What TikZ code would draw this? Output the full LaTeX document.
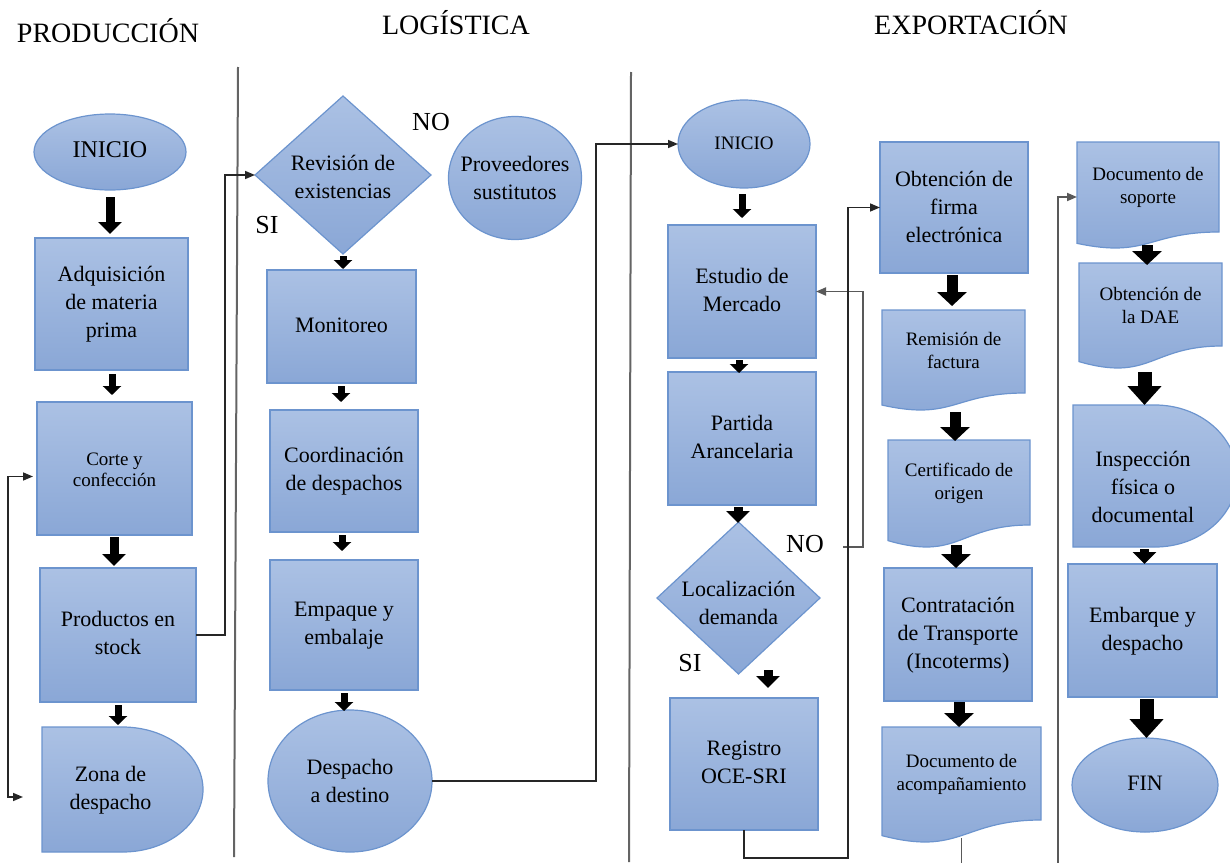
\documentclass[tikz,border=0pt]{standalone}
\usepackage{fontspec}
\setmainfont{Liberation Serif}
\newfontfamily\tnr{Liberation Serif}
\usetikzlibrary{shapes.geometric,arrows.meta,calc}

\definecolor{topc}{RGB}{171,193,228}
\definecolor{botc}{RGB}{138,167,214}
\definecolor{bordc}{RGB}{108,148,206}
\definecolor{divc}{RGB}{100,100,100}

\newcommand{\fsL}{\tnr\fontsize{22}{28}\selectfont}
\newcommand{\fsS}{\tnr\fontsize{19}{23}\selectfont}
\newcommand{\fsC}{\tnr\fontsize{19}{21}\selectfont}
\newcommand{\fsT}{\tnr\fontsize{28}{32}\selectfont}
\newcommand{\fsN}{\tnr\fontsize{26}{30}\selectfont}

% centred multi-line text that does not enlarge its shape (optional vertical shift)
\newcommand{\ztxt}[2][0pt]{\smash{\makebox[0pt]{\raisebox{\dimexpr-0.25em+#1\relax}{\begin{tabular}{@{}c@{}}#2\end{tabular}}}}}

% document symbol: x1, top, x2, right bottom, wave depth
\newcommand{\docsym}[5]{%
  \path[sfill] (#1,#2) -- (#3,#2) -- (#3,#4)
    .. controls ({(#1+#3)/2},#4) and ({(#1+#3)/2},{#4+1.65*#5}) .. (#1,{#4+0.71*#5}) -- cycle;}

% delay symbol: x1, top, bottom, x radius, y radius
\newcommand{\delaysym}[5]{%
  \path[sfill] (#1,#2) -- ({#1+#4},#2)
    arc[start angle=90,end angle=-90,x radius=#4pt,y radius=#5pt] -- (#1,#3) -- cycle;}

% block arrow from one node to the next: style, from, to, dx, gap at start, gap at end
\newcommand{\farrow}[6]{%
  \draw[#1] ($(#2.south)+(#4,#5)$) -- ($(#2.south |- #3.north)+(#4,-#6)$);}

\begin{document}
\begin{tikzpicture}[x=1pt,y=-1pt,
  sz/.style 2 args={minimum width=#1pt,minimum height=#2pt},
  sfill/.style={draw=bordc,line width=1.2pt,top color=topc,bottom color=botc},
  base/.style={inner sep=0pt,outer sep=0pt,font=\fsL},
  boxn/.style={base,sfill,rectangle},
  ellip/.style={base,sfill,ellipse},
  dia/.style={base,sfill,diamond},
  txtn/.style={base,rectangle},
  title/.style={font=\fsT,inner sep=0pt,anchor=base},
  lab/.style={font=\fsN,inner sep=0pt,anchor=base},
  divider/.style={draw=divc,line width=2pt},
  conn/.style={draw=black!85,line width=1.6pt,-{Triangle[length=10pt,width=8pt]}},
  connb/.style={draw=black!85,line width=1.6pt,{Triangle[length=10pt,width=8pt]}-{Triangle[length=10pt,width=8pt]}},
  conng/.style={draw=black!65,line width=1.8pt,-{Triangle[length=10pt,width=8pt]}},
  smallA/.style={line width=7pt,-{Triangle[width=18pt,length=9pt]}},
  medA/.style={line width=9pt,-{Triangle[width=23pt,length=12pt]}},
  bigA/.style={line width=11pt,-{Triangle[width=29pt,length=14pt]}},
  hugeA/.style={line width=14pt,-{Triangle[width=33pt,length=19pt]}}]

\useasboundingbox (0,0) rectangle (1230,862);
\clip (0,0) rectangle (1230,862);

% lane titles and dividers
\node[title] (tprod) at (108,42) {PRODUCCIÓN};
\node[title] (tlog) at (456,34) {LOGÍSTICA};
\node[title] (texp) at (971,34) {EXPORTACIÓN};
\draw[divider] (238,67) -- (234,857);
\draw[divider] (631,72) -- (629,862);

% ---------- Producción ----------
\node[ellip,sz={152}{76},font={\tnr\fontsize{24}{28}\selectfont}] (ini1) at (110,152) {\ztxt{INICIO}};
\node[boxn,sz={153}{132}] (adq) at (111.5,304) {\ztxt{Adquisición\\de materia\\prima}};
\node[boxn,sz={155}{133},font=\fsC] (corte) at (114.5,468.5) {\ztxt[-3pt]{Corte y\\confección}};
\node[boxn,sz={156}{134}] (prod) at (118,635) {\ztxt{Productos en\\stock}};
\delaysym{42}{727}{852}{80.5}{62.5}
\node[txtn,sz={137}{125}] (zona) at (110.5,789.5) {\ztxt{Zona de\\despacho}};

\farrow{medA}{ini1}{adq}{0}{7}{4}
\farrow{smallA}{adq}{corte}{0.5}{4}{7}
\farrow{medA}{corte}{prod}{-0.5}{2}{2}
\farrow{smallA}{prod}{zona}{0}{3}{2}

\draw[connb] ([xshift=-4pt,yshift=-8pt]corte.west) -- ++(-25,0)
  |- ([xshift=-19pt,yshift=-7.5pt]zona.west);

% ---------- Logística ----------
\node[dia,sz={176}{158}] (rev) at (343,175) {\ztxt[-4pt]{Revisión de\\existencias}};
\node[ellip,sz={133}{123}] (prov) at (515,178) {\ztxt[-2pt]{Proveedores\\sustitutos}};
\node[boxn,sz={149}{113}] (mon) at (341.5,326.5) {\ztxt{Monitoreo}};
\node[boxn,sz={148}{122}] (coord) at (344,471) {\ztxt{Coordinación\\de despachos}};
\node[boxn,sz={148}{130}] (emp) at (344,625) {\ztxt{Empaque y\\embalaje}};
\node[ellip,sz={164}{142}] (desp) at (350,781) {\ztxt[-2pt]{Despacho\\a destino}};
\node[lab] (no1) at (431,130) {NO};
\node[lab] (si1) at (267,233) {SI};

\farrow{smallA}{rev}{mon}{0}{2}{1}
\farrow{smallA}{mon}{coord}{-0.5}{3}{8}
\farrow{smallA}{coord}{emp}{-2}{3}{9}
\farrow{smallA}{emp}{desp}{0}{3}{-1}

\draw[conn] (prod.east) -- ++(29,0) |- (rev.west);

% ---------- Exportación ----------
\node[ellip,sz={132}{88},font=\fsS] (ini2) at (744,144) {\ztxt{INICIO}};
\node[boxn,sz={148}{133}] (est) at (742,291.5) {\ztxt{Estudio de\\Mercado}};
\node[boxn,sz={148}{133}] (part) at (742,438.5) {\ztxt{Partida\\Arancelaria}};
\node[dia,sz={163}{152}] (loc) at (738.5,598) {\ztxt[-7pt]{Localización\\demanda}};
\node[boxn,sz={148}{132}] (reg) at (744,764) {\ztxt{Registro\\OCE-SRI}};
\node[lab] (no2) at (805,552) {NO};
\node[lab] (si2) at (690,671) {SI};

\draw[conn] (desp.east) -- ++(164,0) |- (ini2.west);

\farrow{smallA}{ini2}{est}{-2}{6}{7}
\farrow{smallA}{est}{part}{-3}{2}{-1}
\farrow{medA}{part}{loc}{-4}{2}{-1}
\farrow{medA}{loc}{reg}{29.5}{-4}{10}

\node[boxn,sz={148}{131}] (firma) at (954,207.5) {\ztxt[-1pt]{Obtención de\\firma\\electrónica}};
\docsym{882}{310}{1025}{393}{17}
\node[txtn,sz={143}{83},font=\fsS] (rem) at (953.5,351.5) {\ztxt{Remisión de\\factura}};
\docsym{888}{440}{1030}{525}{22}
\node[txtn,sz={142}{85},font=\fsS] (cert) at (959,482.5) {\ztxt{Certificado de\\origen}};
\node[boxn,sz={148}{133}] (cont) at (958,634.5) {\ztxt{Contratación\\de Transporte\\(Incoterms)}};
\docsym{882}{727}{1041}{820}{22}
\node[txtn,sz={159}{93},font=\fsS] (acomp) at (961.5,773.5) {\ztxt{Documento de\\acompañamiento}};

\farrow{bigA}{firma}{rem}{-2}{2}{4}
\farrow{bigA}{rem}{cert}{1.5}{19}{-1}
\farrow{bigA}{cert}{cont}{-3}{20}{0}
\farrow{bigA}{cont}{acomp}{1}{1}{0}

\docsym{1077}{142}{1219}{232}{16}
\node[txtn,sz={142}{90},font=\fsS] (sop) at (1148,187) {\ztxt{Documento de\\soporte}};
\docsym{1079}{263}{1222}{346}{22}
\node[txtn,sz={143}{83},font=\fsS] (dae) at (1150.5,304.5) {\ztxt[-2pt]{Obtención de\\la DAE}};
\delaysym{1073}{405}{547}{82}{71}
\node[txtn,sz={140}{142}] (insp) at (1143,476) {\ztxt[-13pt]{Inspección\\física o\\documental}};
\node[boxn,sz={149}{133}] (emb) at (1142.5,630.5) {\ztxt{Embarque y\\despacho}};
\node[ellip,sz={146}{94}] (fin) at (1145,785) {\ztxt{FIN}};

\farrow{bigA}{sop}{dae}{-1}{13}{-2}
\farrow{hugeA}{dae}{insp}{-6}{26}{0}
\farrow{medA}{insp}{emb}{1.5}{2}{0}
\farrow{hugeA}{emb}{fin}{4}{2}{0}

% loops between the export steps
\coordinate (noend) at (843,547);
\draw[conng] (noend) -- ++(20,0) |- (est.east);
\draw[conn] (reg.south) -- ++(0,28) -- ++(104,0) |- (firma.west);
\draw[conng] ([yshift=-18pt]acomp.south) -- ++(0,70) -- ++(96.5,0) |- ([yshift=-10pt]sop.west);

\end{tikzpicture}
\end{document}
